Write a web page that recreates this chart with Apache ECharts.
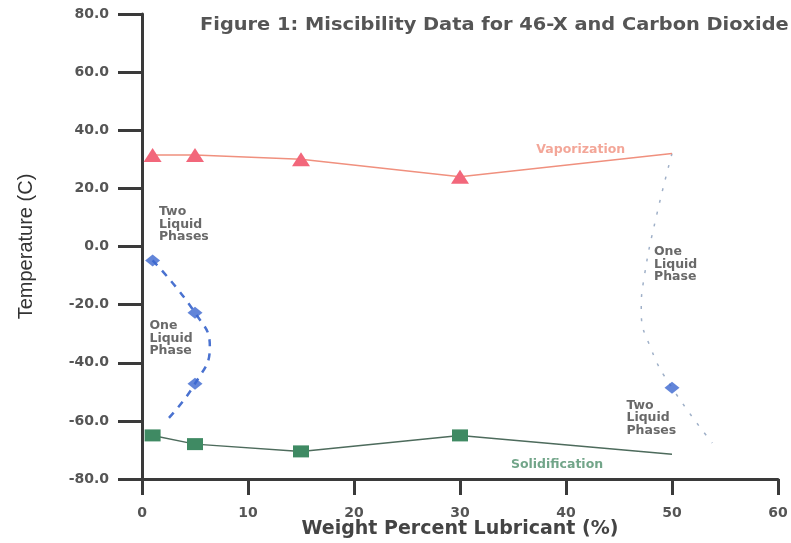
<!DOCTYPE html>
<html>
<head>
<meta charset="utf-8">
<script src="https://cdn.jsdelivr.net/npm/echarts@6/dist/echarts.min.js"></script>
<style>html,body{margin:0;padding:0;background:#fff}#c{width:791px;height:543px}</style>
</head>
<body>
<div id="c"></div>
<script>
// Data
const vaporization = [[1, 31.5], [5, 31.5], [15, 30], [30, 24]];
const vaporizationEnd = [50, 32];
const solidification = [[1, -65], [5, -68], [15, -70.5], [30, -65]];
const solidificationEnd = [50, -71.5];
const leftBoundaryPoints = [[1, -4.8], [5, -22.8], [5, -47.2]];
const leftBoundaryCurve = [[1, -4.8], [5, -22.8], [6.4, -34.5], [5, -47.2], [2.2, -60.3]];
const rightBoundaryPoints = [[50, -48.6]];
const rightBoundaryCurve = [[50, 32], [48.5, 10], [47.4, -10], [47.1, -22], [48, -35], [50, -48.6], [53.8, -67.6]];
const yTicks = [-80, -60, -40, -20, 0, 20, 40, 60, 80];
const xTicks = [0, 10, 20, 30, 40, 50, 60];
const annotations = [
  {pos: [1.6, 7.6], text: 'Two\nLiquid\nPhases', color: '#444'},
  {pos: [0.7, -31.7], text: 'One\nLiquid\nPhase', color: '#444'},
  {pos: [48.3, -6.2], text: 'One\nLiquid\nPhase', color: '#444'},
  {pos: [45.7, -59], text: 'Two\nLiquid\nPhases', color: '#444'},
  {pos: [37.2, 33.4], text: 'Vaporization', color: '#f0907e'},
  {pos: [34.8, -75.2], text: 'Solidification', color: '#4f8f6c'}
];
const titleText = 'Figure 1: Miscibility Data for 46-X and Carbon Dioxide';

const chart = echarts.init(document.getElementById('c'), null, {renderer: 'canvas'});
const axisColor = '#3a3a3a';
const font = 'DejaVu Sans';

chart.setOption({
  animation: false,
  backgroundColor: '#fff',
  graphic: [{
    type: 'text', left: 200, top: 17, scaleX: 1.14, scaleY: 1,
    style: {text: titleText, font: 'bold 17px "DejaVu Sans"', fill: '#555'}
  }],
  grid: {left: 142, right: 13, top: 14, bottom: 64, containLabel: false, outerBoundsMode: 'none'},
  xAxis: {
    type: 'value', min: xTicks[0], max: xTicks[xTicks.length - 1], interval: 10,
    name: 'Weight Percent Lubricant (%)', nameLocation: 'middle', nameGap: 41, nameMoveOverlap: false,
    nameTextStyle: {fontFamily: font, fontWeight: 'bold', fontSize: 19, color: '#444'},
    axisLine: {show: true, onZero: false, lineStyle: {color: axisColor, width: 3}},
    axisTick: {show: true, length: 16, lineStyle: {color: axisColor, width: 3}},
    axisLabel: {margin: 27, fontFamily: font, fontWeight: 'bold', fontSize: 14, color: '#555'},
    splitLine: {show: false}
  },
  yAxis: {
    type: 'value', min: yTicks[0], max: yTicks[yTicks.length - 1], interval: 20,
    name: 'Temperature (C)', nameLocation: 'middle', nameGap: 106,
    nameTextStyle: {fontFamily: 'Liberation Sans', fontSize: 20, color: '#333'},
    axisLine: {show: true, onZero: false, lineStyle: {color: axisColor, width: 3}},
    axisTick: {show: true, length: 24, lineStyle: {color: axisColor, width: 3}},
    axisLabel: {margin: 33, fontFamily: font, fontWeight: 'bold', fontSize: 14, color: '#555',
      formatter: v => v.toFixed(1)},
    splitLine: {show: false}
  },
  series: [
    {
      type: 'line', data: vaporization.concat([{value: vaporizationEnd, symbol: 'none'}]),
      symbol: 'triangle', symbolSize: [18, 14],
      itemStyle: {color: '#f2677b'},
      lineStyle: {color: '#f0907e', width: 1.5},
      z: 3
    },
    {
      type: 'line', data: solidification.concat([{value: solidificationEnd, symbol: 'none'}]),
      symbol: 'rect', symbolSize: [16, 12],
      itemStyle: {color: '#3f8a63'},
      lineStyle: {color: '#4d6b5c', width: 1.5},
      z: 3
    },
    {
      type: 'line', data: leftBoundaryCurve, smooth: 0.5, symbol: 'none',
      lineStyle: {color: '#4a72d0', width: 2.5, type: [7, 7]}, z: 2
    },
    {
      type: 'line', data: rightBoundaryCurve, smooth: 0.5, symbol: 'none',
      lineStyle: {color: '#9fb0c8', width: 1.5, type: [3, 9]}, z: 2
    },
    {
      type: 'scatter', data: leftBoundaryPoints.concat(rightBoundaryPoints),
      symbol: 'diamond', symbolSize: [15, 12],
      itemStyle: {color: '#3b67d0'}, z: 4
    },
    {
      type: 'scatter', symbolSize: 0, silent: true, z: 5,
      data: annotations.map(a => ({
        value: a.pos,
        label: {show: true, position: 'right', distance: 0, formatter: a.text,
          fontFamily: font, fontSize: 12.5, lineHeight: 12.5, fontWeight: 'bold', color: a.color}
      }))
    }
  ]
});
</script>
</body>
</html>
